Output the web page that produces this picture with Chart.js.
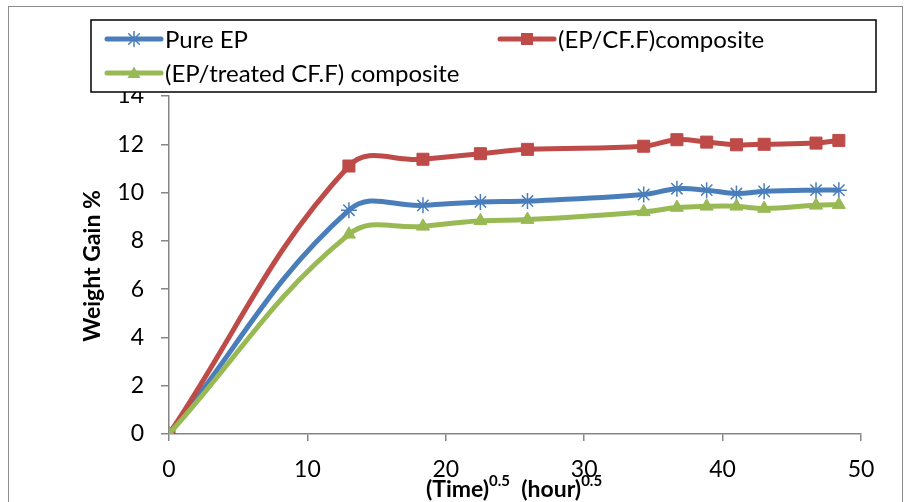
<!DOCTYPE html>
<html>
<head>
<meta charset="utf-8">
<script src="https://cdn.jsdelivr.net/npm/chart.js@4.4.0/dist/chart.umd.min.js"></script>
<style>
  html, body { margin: 0; padding: 0; background: #fff; }
  #wrap { position: relative; width: 908px; height: 502px; overflow: hidden; }
  #frame { position: absolute; left: 8px; top: 6px; width: 895px; height: 520px; border: 1.5px solid #8c8c8c; box-sizing: border-box; }
  #chart { position: absolute; left: 0; top: 0; }
</style>
</head>
<body>
<div id="wrap">
  <div id="frame"></div>
  <canvas id="chart" width="908" height="502"></canvas>
</div>
<script>
// valores
const timeValues = [0, 13, 18.35, 22.5, 25.9, 34.3, 36.7, 38.85, 41, 43, 46.75, 48.4];
const pureEP     = [0, 9.27, 9.47, 9.61, 9.65, 9.92, 10.16, 10.1, 9.96, 10.05, 10.1, 10.1];
const epCF       = [0, 11.1, 11.38, 11.61, 11.79, 11.92, 12.19, 12.09, 11.98, 12.0, 12.05, 12.16];
const epTreated  = [0, 8.27, 8.6, 8.83, 8.88, 9.2, 9.38, 9.43, 9.43, 9.34, 9.47, 9.5];
const seriesNames = ['Pure EP', '(EP/CF.F)composite', '(EP/treated CF.F) composite'];

const BLUE = '#4a7ebb';
const RED = '#be4b48';
const GREEN = '#98b954';
const AXIS = '#868686';
const FONT = 'Lato, "Open Sans", sans-serif';

function toPoints(values) {
  return values.map((v, i) => ({ x: timeValues[i], y: v }));
}

// dibujar marcador pequeño en la leyenda
function drawMarker(ctx, style, color, x, y) {
  ctx.save();
  ctx.fillStyle = color;
  ctx.strokeStyle = color;
  if (style === 'rect') {
    ctx.fillRect(x - 6, y - 6, 12, 12);
  } else if (style === 'triangle') {
    ctx.beginPath();
    ctx.moveTo(x, y - 6.5);
    ctx.lineTo(x + 6.5, y + 5);
    ctx.lineTo(x - 6.5, y + 5);
    ctx.closePath();
    ctx.fill();
  } else {
    ctx.lineWidth = 1.5;
    ctx.beginPath();
    for (let a = 0; a < 4; a++) {
      const ang = a * Math.PI / 4;
      ctx.moveTo(x - 7.5 * Math.cos(ang), y - 7.5 * Math.sin(ang));
      ctx.lineTo(x + 7.5 * Math.cos(ang), y + 7.5 * Math.sin(ang));
    }
    ctx.stroke();
  }
  ctx.restore();
}

const overlay = {
  id: 'overlay',
  afterDraw(chart) {
    const ctx = chart.ctx;
    ctx.save();

    // caja de la leyenda
    ctx.fillStyle = '#fff';
    ctx.fillRect(91, 20, 785, 72);
    ctx.strokeStyle = '#000';
    ctx.lineWidth = 1.5;
    ctx.strokeRect(91, 20, 785, 72);

    const items = [
      { name: seriesNames[0], color: BLUE, style: 'star', x: 107, y: 39 },
      { name: seriesNames[1], color: RED, style: 'rect', x: 500, y: 39 },
      { name: seriesNames[2], color: GREEN, style: 'triangle', x: 107, y: 73 }
    ];
    items.forEach(it => {
      ctx.strokeStyle = it.color;
      ctx.lineWidth = 5;
      ctx.lineCap = 'round';
      ctx.beginPath();
      ctx.moveTo(it.x, it.y);
      ctx.lineTo(it.x + 54, it.y);
      ctx.stroke();
      drawMarker(ctx, it.style, it.color, it.x + 27, it.y);
      ctx.fillStyle = '#000';
      ctx.font = '24px ' + FONT;
      ctx.textBaseline = 'middle';
      ctx.textAlign = 'left';
      ctx.fillText(it.name, it.x + 58, it.y + 1);
    });

    // titulo eje Y
    ctx.save();
    ctx.translate(93, 266);
    ctx.rotate(-Math.PI / 2);
    ctx.font = 'bold 23px ' + FONT;
    ctx.textAlign = 'center';
    ctx.textBaseline = 'middle';
    ctx.fillStyle = '#000';
    ctx.fillText('Weight Gain %', 0, 0);
    ctx.restore();

    // titulo eje X con exponentes
    const parts = [
      { t: '(Time)', sup: false }, { t: '0.5', sup: true },
      { t: '  (hour)', sup: false }, { t: '0.5', sup: true }
    ];
    let width = 0;
    parts.forEach(p => {
      ctx.font = (p.sup ? 'bold 15px ' : 'bold 23px ') + FONT;
      p.w = ctx.measureText(p.t).width;
      width += p.w;
    });
    let x = 514 - width / 2;
    ctx.textAlign = 'left';
    ctx.textBaseline = 'alphabetic';
    ctx.fillStyle = '#000';
    parts.forEach(p => {
      ctx.font = (p.sup ? 'bold 15px ' : 'bold 23px ') + FONT;
      ctx.fillText(p.t, x, p.sup ? 486 : 497);
      x += p.w;
    });

    ctx.restore();
  }
};

const ctx = document.getElementById('chart').getContext('2d');
new Chart(ctx, {
  type: 'line',
  data: {
    datasets: [
      {
        label: seriesNames[0],
        data: toPoints(pureEP),
        borderColor: BLUE,
        backgroundColor: BLUE,
        pointStyle: 'star',
        pointRadius: 8,
        pointBorderWidth: 1.5,
        order: 3
      },
      {
        label: seriesNames[1],
        data: toPoints(epCF),
        borderColor: RED,
        backgroundColor: RED,
        pointStyle: 'rect',
        pointRadius: 8.5,
        pointBorderWidth: 1,
        order: 2
      },
      {
        label: seriesNames[2],
        data: toPoints(epTreated),
        borderColor: GREEN,
        backgroundColor: GREEN,
        pointStyle: 'triangle',
        pointRadius: 7.5,
        pointBorderWidth: 1,
        order: 1
      }
    ]
  },
  options: {
    responsive: false,
    animation: false,
    events: [],
    elements: {
      line: { borderWidth: 5, tension: 0.4, fill: false, capBezierPoints: true }
    },
    layout: { padding: { top: 96, right: 47, left: 0, bottom: 0 } },
    plugins: {
      legend: { display: false },
      tooltip: { enabled: false }
    },
    scales: {
      x: {
        type: 'linear',
        min: 0,
        max: 50,
        ticks: { stepSize: 10, color: '#000', font: { family: FONT, size: 23 }, padding: 15 },
        grid: { drawOnChartArea: false, drawTicks: true, tickLength: 7, color: AXIS, lineWidth: 1.5 },
        border: { color: AXIS, width: 1.5 },
        afterFit(s) { s.height = 68; }
      },
      y: {
        min: 0,
        max: 14,
        ticks: { stepSize: 2, color: '#000', font: { family: FONT, size: 23 }, padding: 17 },
        grid: { drawOnChartArea: false, drawTicks: true, tickLength: 8, color: AXIS, lineWidth: 1.5 },
        border: { color: AXIS, width: 1.5 },
        afterFit(s) { s.width = 169; }
      }
    }
  },
  plugins: [overlay]
});
</script>
</body>
</html>
